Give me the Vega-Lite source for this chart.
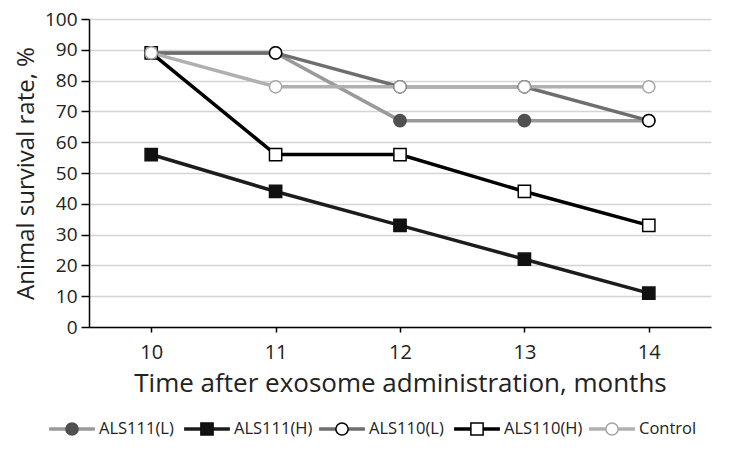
{
  "$schema": "https://vega.github.io/schema/vega-lite/v6.json",
  "background": "white",
  "padding": {"left": 14, "top": 10, "right": 5, "bottom": 5},
  "spacing": 23,
  "config": {
    "font": "Open Sans",
    "view": {"stroke": null},
    "axis": {"domainColor": "#000", "domainWidth": 1.5, "tickColor": "#000", "tickWidth": 1.5, "labelColor": "#222", "titleColor": "#222", "titleFontWeight": "normal", "labelFont": "Open Sans", "titleFont": "Open Sans"}
  },
  "resolve": {"scale": {"x": "independent", "color": "independent", "fill": "independent", "shape": "independent", "strokeWidth": "independent", "stroke": "independent"}},
  "vconcat": [
    {
      "width": 622,
      "height": 308,
      "data": {"values": [
        {"series": "ALS111(L)", "month": 10, "value": 89},
        {"series": "ALS111(L)", "month": 11, "value": 89},
        {"series": "ALS111(L)", "month": 12, "value": 67},
        {"series": "ALS111(L)", "month": 13, "value": 67},
        {"series": "ALS111(L)", "month": 14, "value": 67},
        {"series": "ALS111(H)", "month": 10, "value": 56},
        {"series": "ALS111(H)", "month": 11, "value": 44},
        {"series": "ALS111(H)", "month": 12, "value": 33},
        {"series": "ALS111(H)", "month": 13, "value": 22},
        {"series": "ALS111(H)", "month": 14, "value": 11},
        {"series": "ALS110(L)", "month": 10, "value": 89},
        {"series": "ALS110(L)", "month": 11, "value": 89},
        {"series": "ALS110(L)", "month": 12, "value": 78},
        {"series": "ALS110(L)", "month": 13, "value": 78},
        {"series": "ALS110(L)", "month": 14, "value": 67},
        {"series": "ALS110(H)", "month": 10, "value": 89},
        {"series": "ALS110(H)", "month": 11, "value": 56},
        {"series": "ALS110(H)", "month": 12, "value": 56},
        {"series": "ALS110(H)", "month": 13, "value": 44},
        {"series": "ALS110(H)", "month": 14, "value": 33},
        {"series": "Control", "month": 10, "value": 89},
        {"series": "Control", "month": 11, "value": 78},
        {"series": "Control", "month": 12, "value": 78},
        {"series": "Control", "month": 13, "value": 78},
        {"series": "Control", "month": 14, "value": 78}
      ]},
      "encoding": {
        "x": {"field": "month", "type": "ordinal", "scale": {"type": "point", "padding": 0.5},
          "axis": {"title": "Time after exosome administration, months", "labelAngle": 0, "labelFontSize": 20, "titleFontSize": 26, "tickSize": 5, "labelPadding": 10, "titlePadding": 8, "grid": false}},
        "y": {"field": "value", "type": "quantitative", "scale": {"domain": [0, 100]},
          "axis": {"title": "Animal survival rate, %", "values": [0,10,20,30,40,50,60,70,80,90,100], "labelFontSize": 19, "titleFontSize": 24, "tickSize": 8, "labelPadding": 4, "titlePadding": 6, "grid": true, "gridColor": "#d4d4d4", "gridWidth": 1.5}}
      },
      "layer": [
        {
          "mark": {"type": "line", "strokeWidth": 3.5},
          "encoding": {
            "stroke": {"field": "series", "type": "nominal", "legend": null,
              "scale": {"domain": ["ALS111(L)", "ALS111(H)", "ALS110(L)", "ALS110(H)", "Control"], "range": ["#9a9a9a", "#1c1c1c", "#6e6e6e", "#000000", "#b0b0b0"]}}
          }
        },
        {
          "mark": {"type": "point", "size": 150, "opacity": 1},
          "encoding": {
            "color": {"field": "series", "type": "nominal", "legend": null,
              "scale": {"domain": ["ALS111(L)", "ALS111(H)", "ALS110(L)", "ALS110(H)", "Control"], "range": ["#505050", "#111111", "#000000", "#000000", "#a6a6a6"]}},
            "fill": {"field": "series", "type": "nominal", "legend": null,
              "scale": {"domain": ["ALS111(L)", "ALS111(H)", "ALS110(L)", "ALS110(H)", "Control"], "range": ["#505050", "#111111", "#ffffff", "#ffffff", "#ffffff"]}},
            "shape": {"field": "series", "type": "nominal", "legend": null,
              "scale": {"domain": ["ALS111(L)", "ALS111(H)", "ALS110(L)", "ALS110(H)", "Control"], "range": ["circle", "square", "circle", "square", "circle"]}},
            "strokeWidth": {"field": "series", "type": "nominal", "legend": null,
              "scale": {"domain": ["ALS111(L)", "ALS111(H)", "ALS110(L)", "ALS110(H)", "Control"], "range": [1.5, 1.5, 2.5, 1.8, 1.8]}}
          }
        }
      ]
    },
    {
      "width": 540,
      "height": 20,
      "data": {"values": [
        {"series": "ALS111(L)"},
        {"series": "ALS111(H)"},
        {"series": "ALS110(L)"},
        {"series": "ALS110(H)"},
        {"series": "Control"}
      ]},
      "encoding": {
        "x": {"field": "series", "type": "nominal", "axis": null,
          "scale": {"type": "point", "padding": 0, "range": [-17, 523], "domain": ["ALS111(L)", "ALS111(H)", "ALS110(L)", "ALS110(H)", "Control"]}}
      },
      "layer": [
        {
          "mark": {"type": "point", "shape": "M-1,0L1,0", "size": 2100, "strokeWidth": 3.5, "opacity": 1, "filled": false},
          "encoding": {
            "color": {"field": "series", "type": "nominal", "legend": null,
              "scale": {"domain": ["ALS111(L)", "ALS111(H)", "ALS110(L)", "ALS110(H)", "Control"], "range": ["#9a9a9a", "#1c1c1c", "#6e6e6e", "#000000", "#b0b0b0"]}}
          }
        },
        {
          "mark": {"type": "point", "size": 150, "opacity": 1},
          "encoding": {
            "stroke": {"field": "series", "type": "nominal", "legend": null,
              "scale": {"domain": ["ALS111(L)", "ALS111(H)", "ALS110(L)", "ALS110(H)", "Control"], "range": ["#505050", "#111111", "#000000", "#000000", "#a6a6a6"]}},
            "fill": {"field": "series", "type": "nominal", "legend": null,
              "scale": {"domain": ["ALS111(L)", "ALS111(H)", "ALS110(L)", "ALS110(H)", "Control"], "range": ["#505050", "#111111", "#ffffff", "#ffffff", "#ffffff"]}},
            "shape": {"field": "series", "type": "nominal", "legend": null,
              "scale": {"domain": ["ALS111(L)", "ALS111(H)", "ALS110(L)", "ALS110(H)", "Control"], "range": ["circle", "square", "circle", "square", "circle"]}},
            "strokeWidth": {"field": "series", "type": "nominal", "legend": null,
              "scale": {"domain": ["ALS111(L)", "ALS111(H)", "ALS110(L)", "ALS110(H)", "Control"], "range": [1.5, 1.5, 2.5, 1.8, 1.8]}}
          }
        },
        {
          "mark": {"type": "text", "align": "left", "baseline": "middle", "dx": 27, "fontSize": 16.5, "font": "Open Sans", "color": "#222"},
          "encoding": {"text": {"field": "series"}}
        }
      ]
    }
  ]
}
